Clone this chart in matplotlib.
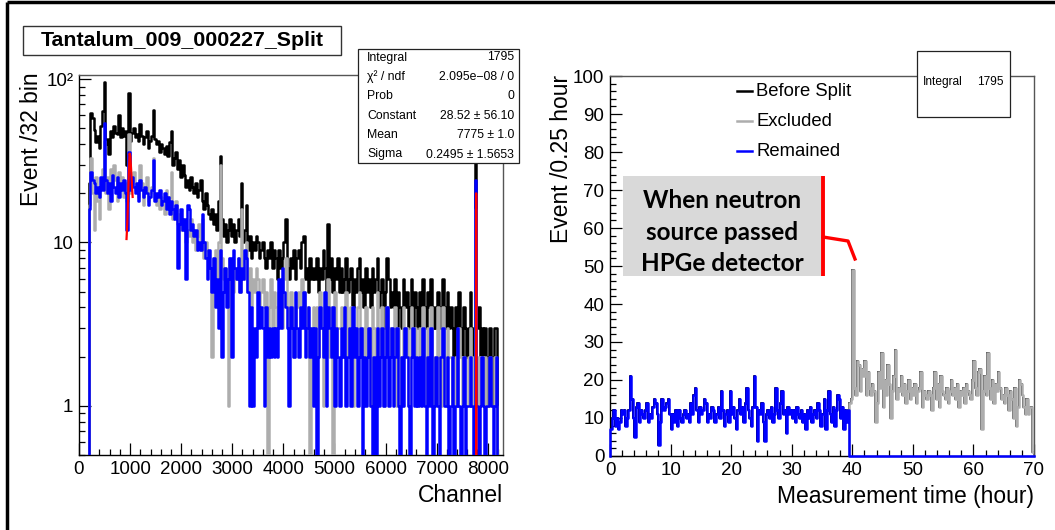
"""
Split of the Tantalum_009_000227 run: energy spectrum (left) and event rate vs time (right).
"""

import matplotlib.pyplot as plt
import numpy as np
from matplotlib.patches import Rectangle
from matplotlib.ticker import FixedLocator, FixedFormatter, LogLocator, MultipleLocator, NullFormatter

plt.rcParams["font.family"] = ["Liberation Sans", "DejaVu Sans"]

W, H = 1055, 530
BLACK = "#000000"
GRAY = "#adadad"
BLUE = "#0000ff"
RED = "#ff0000"
HIST_LW = 1.8

# ---- left panel: spectrum, 32 channels per bin ----
CH_BIN = 32
before_split_ch = [
    0, 0, 0, 0, 0, 0, 23, 62, 58, 49, 41, 45, 38, 52, 64, 96,
    40, 43, 35, 48, 44, 52, 47, 46, 60, 44, 50, 45, 48, 30, 82, 42,
    47, 50, 44, 46, 42, 53, 45, 40, 44, 48, 38, 42, 45, 65, 43, 40,
    42, 36, 40, 38, 35, 39, 34, 41, 48, 30, 33, 36, 28, 32, 25, 30,
    26, 22, 24, 21, 25, 22, 20, 23, 19, 21, 24, 18, 16, 20, 17, 15,
    14, 16, 13, 15, 12, 18, 34, 14, 11, 13, 10, 12, 14, 11, 13, 10,
    12, 14, 11, 23, 10, 12, 17, 9, 11, 8, 10, 9, 11, 10, 8, 9,
    10, 8, 7, 9, 8, 10, 7, 9, 8, 6, 9, 7, 8, 10, 14, 7,
    6, 8, 7, 9, 6, 8, 9, 7, 10, 11, 6, 7, 5, 8, 6, 7,
    6, 8, 5, 7, 6, 9, 7, 5, 13, 6, 8, 5, 7, 6, 8, 5,
    7, 5, 6, 8, 5, 6, 7, 4, 6, 5, 7, 8, 5, 6, 4, 7,
    5, 6, 4, 7, 5, 6, 8, 4, 5, 6, 3, 5, 8, 6, 4, 5,
    4, 6, 3, 5, 4, 3, 6, 4, 5, 3, 4, 6, 3, 5, 4, 3,
    5, 3, 6, 4, 3, 5, 4, 6, 3, 4, 3, 5, 4, 3, 6, 4,
    3, 5, 3, 4, 3, 2, 4, 3, 5, 3, 2, 4, 3, 2, 3, 5,
    3, 2, 40, 3, 4, 2, 3, 2, 3, 2, 1, 3, 2, 1, 3, 3,
]
excluded_ch = [
    0, 0, 0, 0, 0, 0, 17, 33, 20, 12, 25, 18, 14, 22, 28, 42,
    20, 25, 16, 28, 22, 30, 24, 18, 27, 21, 25, 19, 23, 18, 46, 20,
    24, 27, 21, 22, 19, 30, 23, 17, 21, 25, 18, 20, 22, 33, 19, 17,
    20, 16, 19, 18, 15, 21, 17, 19, 27, 14, 16, 18, 13, 15, 12, 14,
    13, 10, 12, 11, 14, 10, 12, 9, 11, 13, 9, 14, 8, 10, 9, 7,
    7, 2, 8, 9, 6, 10, 30, 8, 6, 7, 5, 1, 8, 6, 5, 7,
    6, 8, 5, 16, 7, 6, 10, 5, 7, 4, 6, 5, 7, 6, 4, 5,
    6, 4, 5, 0, 4, 6, 3, 5, 4, 3, 5, 4, 3, 6, 8, 4,
    3, 5, 4, 2, 3, 4, 5, 3, 6, 5, 3, 4, 2, 0, 3, 4,
    3, 4, 2, 5, 3, 1, 4, 3, 6, 2, 4, 0, 5, 2, 3, 3,
    4, 2, 3, 5, 2, 3, 4, 1, 3, 2, 4, 5, 2, 3, 1, 4,
    2, 3, 1, 4, 3, 2, 5, 2, 3, 4, 1, 2, 4, 3, 2, 3,
    2, 4, 1, 3, 2, 1, 4, 2, 3, 1, 2, 4, 2, 3, 2, 1,
    3, 1, 4, 2, 1, 3, 2, 4, 1, 2, 1, 4, 2, 1, 4, 2,
    1, 3, 2, 2, 1, 1, 2, 1, 3, 2, 1, 2, 1, 1, 2, 3,
    2, 1, 16, 1, 2, 1, 2, 1, 2, 1, 1, 2, 1, 1, 2, 1,
]
remained_ch = [
    0, 0, 0, 0, 0, 0, 16, 27, 24, 23, 20, 22, 19, 25, 21, 54,
    24, 20, 23, 18, 26, 22, 20, 25, 19, 23, 21, 24, 20, 12, 36, 21,
    25, 22, 20, 23, 18, 24, 21, 19, 22, 20, 17, 19, 21, 32, 18, 20,
    19, 21, 17, 18, 20, 16, 19, 15, 18, 16, 14, 17, 7, 13, 16, 12,
    14, 6, 17, 16, 12, 13, 11, 12, 9, 10, 9, 15, 10, 8, 6, 9,
    7, 5, 8, 4, 6, 3, 9, 2, 5, 7, 4, 6, 8, 2, 9, 7,
    6, 8, 5, 7, 6, 9, 8, 5, 1, 4, 1, 3, 2, 5, 3, 4,
    3, 1, 4, 2, 3, 2, 3, 2, 3, 2, 6, 3, 7, 5, 4, 3,
    1, 4, 3, 2, 5, 3, 2, 4, 3, 5, 2, 3, 4, 2, 3, 1,
    3, 0, 2, 4, 3, 2, 5, 1, 4, 3, 2, 4, 1, 3, 2, 1,
    3, 2, 4, 1, 2, 3, 1, 4, 2, 3, 1, 2, 3, 0, 2, 1,
    2, 3, 1, 0, 2, 0, 3, 1, 2, 3, 1, 2, 4, 1, 2, 3,
    1, 2, 3, 1, 0, 2, 1, 3, 2, 1, 0, 2, 3, 1, 2, 1,
    2, 1, 3, 1, 0, 2, 1, 3, 0, 1, 2, 1, 0, 2, 3, 1,
    1, 2, 0, 1, 2, 0, 1, 3, 1, 0, 1, 2, 0, 1, 1, 2,
    1, 0, 24, 1, 0, 1, 2, 1, 0, 1, 1, 2, 1, 0, 1, 2,
]

# red gaussian fit curves (channel, events) as drawn
fit_low_x = [930, 945, 960, 975, 990, 1005, 1020, 1035, 1050]
fit_low_y = [10.5, 13, 18, 26, 35, 34, 28, 23, 19]
fit_peak_x = [7774.5, 7775, 7775.5]
fit_peak_y = [0.3, 20, 0.3]

stats_labels = ["Integral", "\u03c7\u00b2 / ndf", "Prob", "Constant", "Mean", "Sigma"]
stats_values = ["1795", "2.095e\u221208 / 0", "0", "28.52 \u00b1 56.10",
                "7775 \u00b1 1.0", "0.2495 \u00b1 1.5653"]

# ---- right panel: events per 0.25 hour ----
T_BIN = 0.25
remained_t = [  # 0 - 39.5 h
    7, 10, 12, 8, 10, 7, 9, 12, 11, 12, 8, 10, 12, 21, 15, 10,
    5, 13, 14, 9, 12, 11, 10, 12, 14, 9, 11, 10, 13, 15, 14, 11,
    3, 9, 15, 12, 13, 14, 15, 11, 7, 11, 9, 12, 8, 12, 10, 9,
    11, 12, 10, 11, 9, 14, 11, 16, 18, 12, 9, 13, 11, 12, 15, 14,
    9, 11, 10, 13, 12, 9, 11, 13, 10, 17, 12, 8, 11, 12, 9, 17,
    11, 13, 10, 7, 12, 15, 11, 13, 9, 14, 18, 12, 10, 8, 13, 21,
    13, 4, 12, 11, 14, 9, 4, 11, 12, 10, 13, 9, 11, 18, 12, 10,
    14, 17, 11, 12, 6, 13, 11, 12, 10, 12, 9, 13, 11, 10, 12, 9,
    11, 7, 12, 10, 13, 9, 11, 12, 10, 14, 12, 8, 11, 15, 7, 12,
    17, 11, 9, 13, 8, 12, 16, 15, 10, 13, 7, 12, 9, 12,
]
excluded_t = [  # 39.5 - 70 h
    14, 15,
    49, 18, 16, 25, 24, 17, 23, 21, 25, 16, 22, 18, 16, 19, 17, 9,
    14, 22, 18, 27, 13, 20, 16, 24, 19, 10, 17, 21, 28, 15, 18, 17,
    21, 16, 19, 14, 17, 20, 15, 18, 16, 19, 14, 17, 18, 22, 13, 17,
    16, 15, 17, 16, 12, 18, 22, 15, 19, 13, 21, 17, 16, 15, 18, 14,
    17, 20, 16, 18, 15, 19, 13, 17, 16, 18, 14, 19, 17, 16, 15, 20,
    25, 18, 16, 22, 23, 7, 17, 21, 16, 27, 18, 15, 20, 14, 19, 17,
    22, 18, 15, 16, 14, 18, 16, 12, 17, 15, 10, 18, 8, 13, 20, 19,
    16, 13, 11, 15, 11, 13, 13, 1,
]

legend_labels = ["Before Split", "Excluded", "Remained"]
legend_colors = [BLACK, GRAY, BLUE]

note_lines = ["When neutron", "source passed", "HPGe detector"]


def outline(edges, vals, floor):
    """Histogram outline (ROOT style) as x, y arrays."""
    vals = np.where(np.asarray(vals, float) > 0, vals, floor)
    x = np.concatenate([[edges[0]], np.repeat(edges, 2)[1:-1], [edges[-1]]])
    y = np.concatenate([[floor], np.repeat(vals, 2), [floor]])
    return x, y


def style_axes(ax):
    for side in ("top", "right"):
        ax.spines[side].set_color("#555555")
    for spine in ax.spines.values():
        spine.set_linewidth(1.0)
    ax.tick_params(which="both", direction="in", top=False, right=False,
                   labelsize=13.5, width=0.9, pad=4)
    ax.tick_params(which="major", length=8.5)
    ax.tick_params(which="minor", length=4.5)


fig = plt.figure(figsize=(W / 100, H / 100), dpi=100)

# ---------------- left panel ----------------
axl = fig.add_axes([79 / W, 1 - 455 / H, 424 / W, 380 / H])
edges_ch = np.arange(len(before_split_ch) + 1) * CH_BIN
for vals, col, z in [(before_split_ch, BLACK, 3), (excluded_ch, GRAY, 4), (remained_ch, BLUE, 5)]:
    x, y = outline(edges_ch, vals, 1e-3)
    axl.plot(x, y, color=col, lw=HIST_LW, zorder=z)
axl.plot(fit_low_x, fit_low_y, color=RED, lw=1.6, zorder=6)
axl.plot(fit_peak_x, fit_peak_y, color=RED, lw=1.6, zorder=6)

axl.set_yscale("log")
axl.set_xlim(0, 8300)
axl.set_ylim(0.5, 106)
axl.xaxis.set_major_locator(MultipleLocator(1000))
axl.xaxis.set_minor_locator(MultipleLocator(200))
axl.yaxis.set_major_locator(FixedLocator([1, 10, 100]))
axl.yaxis.set_major_formatter(FixedFormatter(["1", "10", "10\u00b2"]))
axl.yaxis.set_minor_locator(LogLocator(base=10, subs=np.arange(2, 10)))
axl.yaxis.set_minor_formatter(NullFormatter())
style_axes(axl)

axl.set_xlabel("Channel", fontsize=16.5, loc="right")
axl.xaxis.set_label_coords(1.0, -40 / 380)
axl.xaxis.label.set_va("center")
axl.set_ylabel("Event /32 bin", fontsize=16.5, loc="top")
axl.yaxis.set_label_coords(-47 / 424, 1 + 3 / 380)
axl.yaxis.label.set_va("center")

# ---------------- right panel ----------------
axr = fig.add_axes([610 / W, 1 - 456 / H, 424 / W, 380 / H])
n_rem, n_exc = len(remained_t), len(excluded_t)
edges_t = np.arange(n_rem + n_exc + 1) * T_BIN
remained_full = np.concatenate([remained_t, np.zeros(n_exc)])
excluded_full = np.concatenate([np.zeros(n_rem), excluded_t])
before_full = remained_full + excluded_full

x, y = outline(edges_t, before_full, 0)
axr.plot(x, y, color=BLACK, lw=1.4, zorder=3)
x, y = outline(edges_t[n_rem:], excluded_t, 0)
axr.plot(x, y, color=GRAY, lw=HIST_LW, zorder=4)
x, y = outline(edges_t, remained_full, 0)
axr.plot(x, y, color=BLUE, lw=HIST_LW, zorder=5, clip_on=False)

axr.set_xlim(0, 70)
axr.set_ylim(0, 100)
axr.xaxis.set_major_locator(MultipleLocator(10))
axr.xaxis.set_minor_locator(MultipleLocator(2))
axr.yaxis.set_major_locator(MultipleLocator(10))
axr.yaxis.set_minor_locator(MultipleLocator(2))
style_axes(axr)

axr.set_xlabel("Measurement time (hour)", fontsize=16.5, loc="right")
axr.xaxis.set_label_coords(1.0, -41 / 380)
axr.xaxis.label.set_va("center")
axr.set_ylabel("Event /0.25 hour", fontsize=16.5, loc="top")
axr.yaxis.set_label_coords(-48 / 424, 1 + 1 / 380)
axr.yaxis.label.set_va("center")

# ---------------- overlay in pixel coordinates ----------------
ov = fig.add_axes([0, 0, 1, 1], zorder=10)
ov.set_xlim(0, W)
ov.set_ylim(H, 0)
ov.axis("off")
ov.patch.set_visible(False)

# outer frame of the slide
ov.plot([7, 7], [H, 2], color=BLACK, lw=2.5, solid_capstyle="butt")
ov.plot([7, W], [2, 2], color=BLACK, lw=2.5, solid_capstyle="butt")

# title box
ov.add_patch(Rectangle((23, 26), 318, 29, fc="white", ec="#333333", lw=1.0))
ov.text(182, 41, "Tantalum_009_000227_Split", ha="center", va="center",
        fontsize=15.4, fontweight="bold")

# fit statistics box
ov.add_patch(Rectangle((358, 49), 161, 114, fc="white", ec="#222222", lw=0.9))
for i, (lab, val) in enumerate(zip(stats_labels, stats_values)):
    yy = 57.5 + 19.4 * i
    ov.text(367, yy, lab, ha="left", va="center", fontsize=8.8)
    ov.text(514, yy, val, ha="right", va="center", fontsize=8.8)

# integral box on the time plot
ov.add_patch(Rectangle((917, 51), 93, 66, fc="white", ec="#222222", lw=0.9))
ov.text(923, 82, "Integral", ha="left", va="center", fontsize=8.6)
ov.text(1004, 82, "1795", ha="right", va="center", fontsize=8.6)

# legend
for i, (lab, col) in enumerate(zip(legend_labels, legend_colors)):
    yy = 91 + 30 * i
    ov.plot([737, 752], [yy, yy], color=col, lw=1.8)
    ov.text(756, yy, lab, ha="left", va="center", fontsize=13.3)

# annotation
ov.add_patch(Rectangle((623, 176), 198, 100, fc="#d9d9d9", ec="none"))
for i, line in enumerate(note_lines):
    ov.text(722, 208 + 31.5 * i, line, ha="center", va="baseline",
            fontsize=17.5, fontweight="bold", family=["Lato", "DejaVu Sans"])
ov.plot([823, 823], [176, 276], color=RED, lw=2.8, solid_capstyle="butt")
ov.plot([823, 848, 855], [237, 241, 259], color=RED, lw=2.4)

fig.savefig("out.png", dpi=100)
